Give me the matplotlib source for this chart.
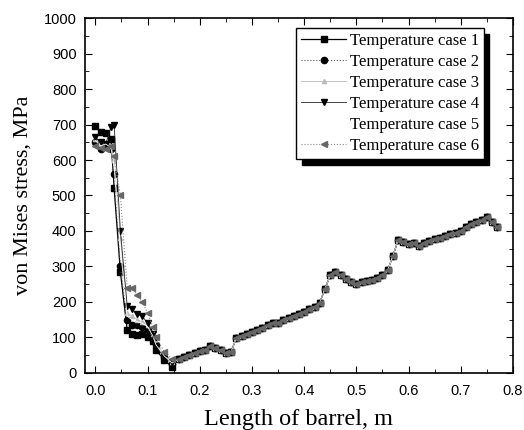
import numpy as np
import matplotlib.pyplot as plt
from matplotlib.ticker import MultipleLocator

# shared part of the curves (all cases coincide beyond ~0.15 m)
x_tail = [0.16, 0.17, 0.18, 0.19, 0.20, 0.21, 0.22, 0.23, 0.24, 0.25, 0.26,
          0.27, 0.28, 0.29, 0.30, 0.31, 0.32, 0.33, 0.34, 0.35, 0.36, 0.37,
          0.38, 0.39, 0.40, 0.41, 0.42, 0.43, 0.44, 0.45, 0.46, 0.47, 0.48,
          0.49, 0.50, 0.51, 0.52, 0.53, 0.54, 0.55, 0.56, 0.57, 0.58, 0.59,
          0.60, 0.61, 0.62, 0.63, 0.64, 0.65, 0.66, 0.67, 0.68, 0.69, 0.70,
          0.71, 0.72, 0.73, 0.74, 0.75, 0.76, 0.77]
y_tail = [40, 45, 52, 55, 62, 65, 75, 70, 65, 57, 60,
          98, 105, 110, 115, 120, 128, 135, 140, 142, 150, 155,
          160, 165, 172, 180, 186, 198, 238, 275, 285, 275, 265,
          255, 250, 255, 260, 262, 268, 275, 290, 330, 375, 370,
          362, 365, 358, 365, 372, 378, 380, 385, 392, 395, 400,
          412, 420, 425, 430, 440, 425, 410]

# inlet region, differs per case
x_head = [0.0, 0.01, 0.02, 0.03, 0.036, 0.048, 0.061, 0.07, 0.08, 0.09,
          0.10, 0.11, 0.116, 0.132, 0.147]
case1 = [695, 680, 675, 660, 521, 285, 121, 110, 107, 110, 100, 90, 65, 37, 17]
case2 = [650, 630, 640, 630, 560, 300, 150, 135, 135, 130, 120, 100, 80, 45, 25]
case3 = [660, 645, 650, 640, 600, 380, 170, 160, 150, 145, 135, 110, 85, 50, 30]
case4 = [665, 650, 645, 693, 700, 400, 190, 180, 165, 160, 140, 110, 75, 45, 30]
case5 = [655, 640, 645, 635, 580, 350, 160, 150, 145, 140, 130, 105, 80, 48, 28]
case6 = [640, 635, 630, 640, 610, 500, 240, 240, 220, 200, 170, 130, 100, 60, 40]

labels = ["Temperature case 1", "Temperature case 2", "Temperature case 3",
          "Temperature case 4", "Temperature case 5", "Temperature case 6"]

plt.rcParams['font.family'] = 'Liberation Sans'
fig = plt.figure(figsize=(5.24, 4.30), dpi=100)
ax = fig.add_axes([0.162, 0.1326, 0.817, 0.8255])

x_all = x_head + x_tail
styles = [
    dict(color='black', ls='-', lw=0.9, marker='s', ms=5),
    dict(color='#555555', ls=':', lw=0.8, marker='o', ms=4.5, mfc='black', mec='black'),
    dict(color='#bbbbbb', ls='-', lw=0.6, marker='^', ms=3, mfc='#bbbbbb', mec='#bbbbbb'),
    dict(color='#222222', ls='-', lw=0.6, marker='v', ms=5, mfc='black', mec='black'),
    dict(color='white', ls='-', lw=0.6, marker=None),
    dict(color='#888888', ls=':', lw=0.8, marker='<', ms=4.5, mfc='#666666', mec='#666666'),
]
for head, lab, st in zip([case1, case2, case3, case4, case5, case6], labels, styles):
    ax.plot(x_all, head + y_tail, label=lab, **st)

ax.set_xlim(-0.02, 0.8)
ax.set_ylim(0, 1000)
ax.xaxis.set_major_locator(MultipleLocator(0.1))
ax.xaxis.set_minor_locator(MultipleLocator(0.05))
ax.yaxis.set_major_locator(MultipleLocator(100))
ax.yaxis.set_minor_locator(MultipleLocator(50))
ax.tick_params(which='both', direction='in', top=True, right=True, labelsize=10.5)
ax.tick_params(axis='x', pad=8)
ax.tick_params(axis='y', pad=6)
ax.tick_params(which='major', length=5)
ax.tick_params(which='minor', length=3)
for s in ax.spines.values():
    s.set_linewidth(1.2)

ax.set_xlabel("Length of barrel, m", family='Liberation Serif', fontsize=17.5, labelpad=8)
ax.set_ylabel("von Mises stress, MPa", family='Liberation Serif', fontsize=16, labelpad=8)

leg = ax.legend(loc='upper right', bbox_to_anchor=(0.932, 0.972), fancybox=False,
                edgecolor='black', prop={'family': 'Liberation Serif', 'size': 12},
                handlelength=2.7, handletextpad=0.2, labelspacing=0.3,
                borderpad=0.3, borderaxespad=0,
                shadow={'color': 'black', 'alpha': 1, 'ox': 4, 'oy': -4})
leg.get_frame().set_linewidth(1.0)

fig.savefig("out.png", dpi=100)
